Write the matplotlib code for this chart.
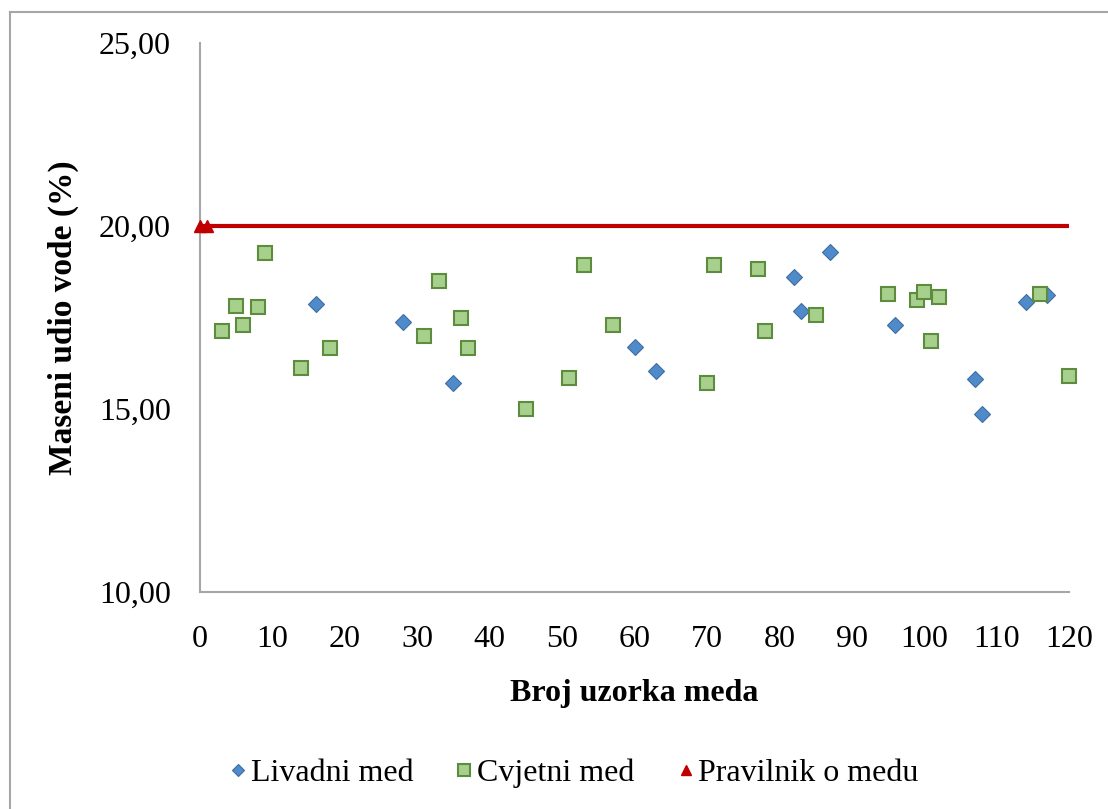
import matplotlib

matplotlib.use("Agg")
import matplotlib.pyplot as plt
from matplotlib.lines import Line2D
from matplotlib.ticker import FuncFormatter, MultipleLocator

# --- data ----------------------------------------------------------------
livadni_x = [16, 28, 35, 60, 63, 82, 83, 87, 96, 107, 108, 114, 117]
livadni_y = [17.86, 17.37, 15.72, 16.70, 16.03, 18.60, 17.69, 19.30, 17.30,
             15.82, 14.87, 17.93, 18.11]

cvjetni_x = [3, 5, 6, 8, 9, 14, 18, 31, 33, 36, 37, 45, 51, 53, 57, 70, 71,
             77, 78, 85, 95, 99, 100, 101, 102, 116, 120]
cvjetni_y = [17.13, 17.82, 17.30, 17.78, 19.26, 16.12, 16.66, 17.00, 18.50,
             17.50, 16.66, 15.00, 15.85, 18.94, 17.30, 15.72, 18.94, 18.82,
             17.13, 17.57, 18.14, 17.98, 18.19, 16.85, 18.06, 18.13, 15.90]

pravilnik_x = [0, 1]
pravilnik_y = [20, 20]

limit_x = [0, 120]
limit_y = [20, 20]

labels = ["Livadni med", "Cvjetni med", "Pravilnik o medu"]

# --- styling ---------------------------------------------------------------
plt.rcParams["font.family"] = ["Liberation Serif", "DejaVu Serif"]
FS = 23

BLUE, BLUE_EDGE = "#4F8BCB", "#3D6E9E"
GREEN, GREEN_EDGE = "#A8D08D", "#5E8C3E"
RED = "#C00000"
GRAY = "#A6A6A6"

fig = plt.figure(figsize=(11.08, 8.09), dpi=100)
ax = fig.add_axes([200 / 1108, 1 - 592 / 809, 869 / 1108, 549 / 809])

# outer chart border (only left and top edges fall inside the picture)
fig.add_artist(Line2D([10 / 1108, 10 / 1108], [0, 1 - 12 / 809],
                      transform=fig.transFigure, color=GRAY, lw=1.5))
fig.add_artist(Line2D([10 / 1108, 1], [1 - 12 / 809, 1 - 12 / 809],
                      transform=fig.transFigure, color=GRAY, lw=1.5))

ax.plot(limit_x, limit_y, color=RED, lw=3, zorder=2, solid_capstyle="butt")
ax.plot(livadni_x, livadni_y, ls="none", marker="D", ms=8.2,
        mfc=BLUE, mec=BLUE_EDGE, mew=0.8, label=labels[0], zorder=3,
        clip_on=False)
ax.plot(cvjetni_x, cvjetni_y, ls="none", marker="s", ms=10.2,
        mfc=GREEN, mec=GREEN_EDGE, mew=1.5, label=labels[1], zorder=4,
        clip_on=False)
ax.plot(pravilnik_x, pravilnik_y, ls="none", marker="^", ms=9,
        mfc=RED, mec=RED, label=labels[2], zorder=5, clip_on=False)

ax.set_xlim(0, 120)
ax.set_ylim(10, 25)
ax.xaxis.set_major_locator(MultipleLocator(10))
ax.yaxis.set_major_locator(MultipleLocator(5))
ax.yaxis.set_major_formatter(FuncFormatter(lambda v, _: f"{v:.2f}".replace(".", ",")))

for side in ("top", "right"):
    ax.spines[side].set_visible(False)
for side in ("left", "bottom"):
    ax.spines[side].set_color(GRAY)
    ax.spines[side].set_linewidth(1.5)

ax.tick_params(axis="x", length=0, pad=24, labelsize=FS)
ax.tick_params(axis="y", length=0, pad=21, labelsize=FS)

ax.set_xlabel("Broj uzorka meda", fontsize=FS, fontweight="bold", labelpad=18)
ax.set_ylabel("Maseni udio vode (%)", fontsize=FS + 1, fontweight="bold", labelpad=14)

handles, _ = ax.get_legend_handles_labels()
leg = fig.legend(handles, labels, loc="center", ncol=3, frameon=False,
                 bbox_to_anchor=(575 / 1108, 1 - 773 / 809), fontsize=FS,
                 handlelength=0.4, handletextpad=0.2, columnspacing=1.4,
                 markerscale=0.8)

fig.savefig("out.png", dpi=100)
